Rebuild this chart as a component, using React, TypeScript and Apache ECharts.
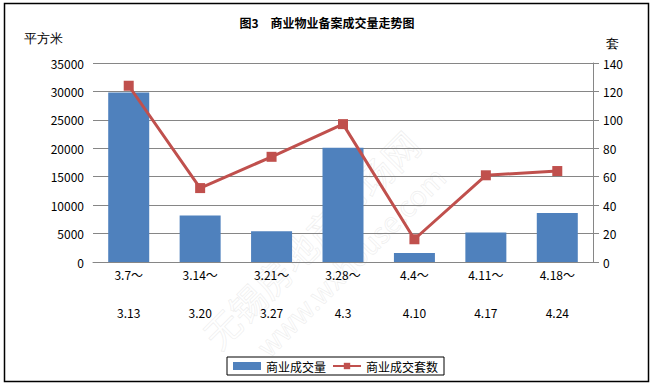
import React, { useEffect, useRef } from "react";
import * as echarts from "echarts";

const periodStart = ["3.7～", "3.14～", "3.21～", "3.28～", "4.4～", "4.11～", "4.18～"];
const periodEnd = ["3.13", "3.20", "3.27", "4.3", "4.10", "4.17", "4.24"];
const areaValues = [29800, 8200, 5400, 20100, 1600, 5200, 8600];
const unitValues = [124, 52, 74, 97, 16, 61, 64];
const leftTicks = [0, 35000, 5000];
const rightTicks = [0, 140, 20];

const FONT = "'Noto Sans CJK SC', 'DejaVu Sans', sans-serif";

export default function App() {
  const ref = useRef<HTMLDivElement>(null);
  useEffect(() => {
    if (!ref.current) return;
    const chart = echarts.init(ref.current, undefined, { renderer: "svg" });
    const categories = periodStart.map((s, i) => s + "\n" + periodEnd[i]);
    chart.setOption({
      animation: false,
      backgroundColor: "#fff",
      textStyle: { fontFamily: FONT },
      title: {
        text: "图3　商业物业备案成交量走势图",
        left: "center",
        top: 11,
        textStyle: { fontSize: 12, fontWeight: "bold", color: "#000", fontFamily: FONT },
      },
      grid: { left: 93, right: 61, top: 63, bottom: 124, containLabel: false },
      legend: {
        left: 227,
        top: 357,
        width: 214,
        padding: [3, 6, 3, 6],
        borderColor: "#000",
        borderWidth: 1,
        itemGap: 6,
        itemWidth: 28,
        itemHeight: 8,
        textStyle: { fontSize: 12, color: "#000", fontFamily: FONT },
        data: [
          { name: "商业成交量", icon: "rect" },
          { name: "商业成交套数" },
        ],
      },
      xAxis: {
        type: "category",
        data: categories,
        axisLine: { lineStyle: { color: "#868686", width: 1 } },
        axisTick: { show: false },
        axisLabel: {
          margin: 4,
          interval: 0,
          formatter: (v: string) => {
            const [a, b] = v.split("\n");
            return "{a|" + a + "}\n{b|" + b + "}";
          },
          rich: {
            a: { fontSize: 12, lineHeight: 16, color: "#000", fontFamily: FONT },
            b: { fontSize: 12, lineHeight: 60, color: "#000", fontFamily: FONT },
          },
        },
      },
      yAxis: [
        {
          type: "value",
          min: leftTicks[0],
          max: leftTicks[1],
          interval: leftTicks[2],
          axisLine: { show: false },
          axisTick: { show: false },
          splitLine: { lineStyle: { color: "#868686", width: 1 } },
          axisLabel: {
            margin: 9,
            fontSize: 12,
            color: "#000",
            fontFamily: FONT,
            formatter: (v: number) => String(v),
          },
        },
        {
          type: "value",
          min: rightTicks[0],
          max: rightTicks[1],
          interval: rightTicks[2],
          axisLine: { show: true, lineStyle: { color: "#868686", width: 1 } },
          axisTick: { show: true, length: 6, lineStyle: { color: "#868686" } },
          splitLine: { show: false },
          axisLabel: {
            margin: 10,
            fontSize: 12,
            color: "#000",
            fontFamily: FONT,
            formatter: (v: number) => String(v),
          },
        },
      ],
      series: [
        {
          name: "商业成交量",
          type: "bar",
          yAxisIndex: 0,
          data: areaValues,
          barWidth: 41,
          itemStyle: { color: "#4F81BD" },
        },
        {
          name: "商业成交套数",
          type: "line",
          yAxisIndex: 1,
          data: unitValues,
          symbol: "rect",
          symbolSize: 10,
          lineStyle: { color: "#C0504D", width: 3 },
          itemStyle: { color: "#C0504D" },
        },
      ],
      graphic: [
        {
          type: "rect",
          shape: { x: 4.5, y: 3.5, width: 644, height: 378 },
          style: { fill: "none", stroke: "#000", lineWidth: 1.5 },
          silent: true,
          z: 100,
        },
        {
          type: "text",
          left: 24,
          top: 32,
          style: { text: "平方米", fontSize: 13, fill: "#000", font: "13px " + FONT },
        },
        {
          type: "text",
          left: 606,
          top: 37,
          style: { text: "套", fontSize: 13, fill: "#000", font: "13px " + FONT },
        },
        {
          type: "group",
          x: 330,
          y: 250,
          rotation: Math.PI / 4,
          silent: true,
          z: 50,
          children: [
            {
              type: "text",
              x: -150,
              y: -40,
              style: {
                text: "无锡房地产市场网",
                font: "36px " + FONT,
                fill: "rgba(255,255,255,0.35)",
                stroke: "rgba(215,215,215,0.45)",
                lineWidth: 0.8,
              },
            },
            {
              type: "text",
              x: -120,
              y: 8,
              style: {
                text: "www.wxhouse.com",
                font: "28px " + FONT,
                fill: "rgba(255,255,255,0.35)",
                stroke: "rgba(215,215,215,0.45)",
                lineWidth: 0.8,
              },
            },
          ],
        },
      ],
    });
    return () => chart.dispose();
  }, []);
  return (
    <div
      ref={ref}
      style={{ position: "fixed", left: 0, top: 0, width: 654, height: 386 }}
    />
  );
}
